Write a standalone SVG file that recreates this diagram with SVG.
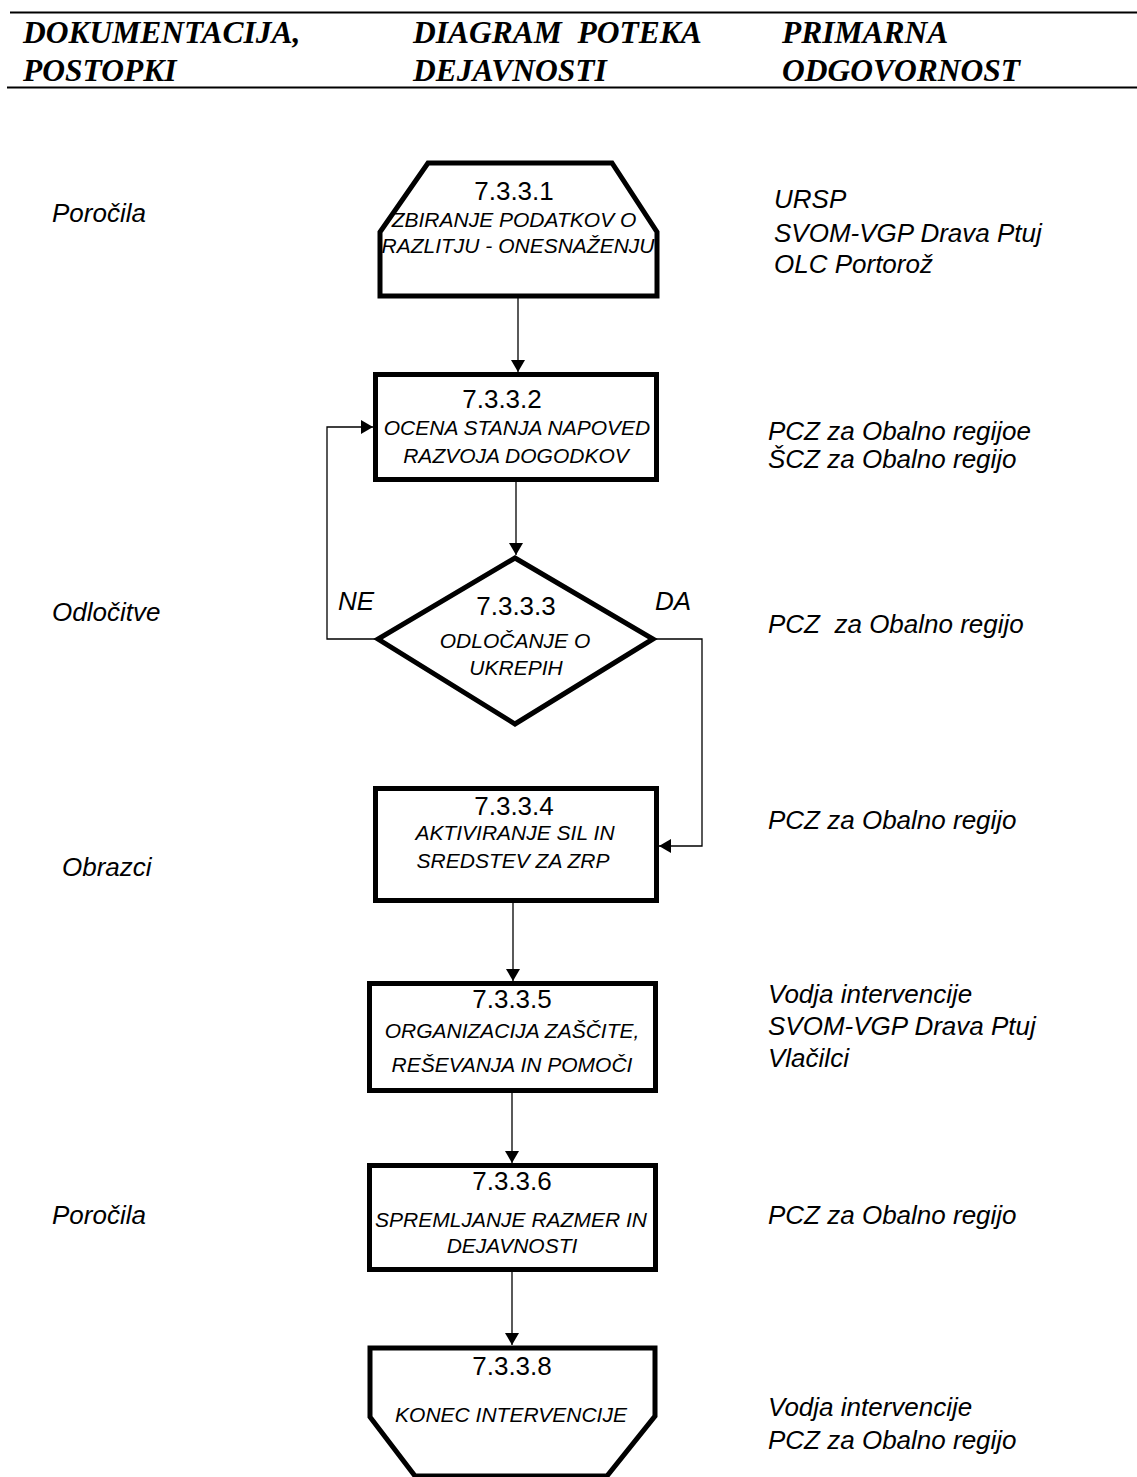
<svg xmlns="http://www.w3.org/2000/svg" width="1137" height="1477" viewBox="0 0 1137 1477">
<defs>
<style>
.hdr{font-family:"Liberation Serif","Times New Roman",serif;font-weight:bold;font-style:italic;font-size:31.5px;fill:#000}
.num{font-family:"Liberation Sans",Arial,sans-serif;font-size:26px;text-anchor:middle;fill:#000}
.lbl{font-family:"Liberation Sans",Arial,sans-serif;font-style:italic;font-size:21px;text-anchor:middle;fill:#000}
.side{font-family:"Liberation Sans",Arial,sans-serif;font-style:italic;font-size:26px;fill:#000;white-space:pre}
.shape{fill:#fff;stroke:#000;stroke-width:5}
.fillonly{fill:#fff;stroke:none}
.strokeonly{fill:none;stroke:#000;stroke-width:5}
.conn{fill:none;stroke:#000;stroke-width:1.3}
.rule{stroke:#000;stroke-width:2.2}
</style>
<marker id="arr" markerUnits="userSpaceOnUse" markerWidth="12" markerHeight="14" refX="12" refY="7" orient="auto">
<path d="M0,0 L12,7 L0,14 z" fill="#000"/>
</marker>
</defs>
<rect width="1137" height="1477" fill="#fff"/>

<g id="header">
<line class="rule" x1="10" y1="12.5" x2="1137" y2="12.5"/>
<line class="rule" x1="7" y1="87.5" x2="1137" y2="87.5"/>
<text class="hdr" x="23" y="43">DOKUMENTACIJA,</text>
<text class="hdr" x="23" y="81">POSTOPKI</text>
<text class="hdr" x="413" y="43" xml:space="preserve">DIAGRAM  POTEKA</text>
<text class="hdr" x="413" y="81">DEJAVNOSTI</text>
<text class="hdr" x="782" y="43">PRIMARNA</text>
<text class="hdr" x="782" y="81">ODGOVORNOST</text>
</g>

<g id="left-labels">
<text class="side" x="52" y="222">Poročila</text>
<text class="side" x="52" y="621">Odločitve</text>
<text class="side" x="62" y="876">Obrazci</text>
<text class="side" x="52" y="1224">Poročila</text>
</g>

<g id="right-labels">
<text class="side" x="774" y="208">URSP</text>
<text class="side" x="774" y="242">SVOM-VGP Drava Ptuj</text>
<text class="side" x="774" y="273">OLC Portorož</text>
<text class="side" x="768" y="440">PCZ za Obalno regijoe</text>
<text class="side" x="768" y="468">ŠCZ za Obalno regijo</text>
<text class="side" x="768" y="633" xml:space="preserve">PCZ  za Obalno regijo</text>
<text class="side" x="768" y="829">PCZ za Obalno regijo</text>
<text class="side" x="768" y="1003">Vodja intervencije</text>
<text class="side" x="768" y="1035">SVOM-VGP Drava Ptuj</text>
<text class="side" x="768" y="1067">Vlačilci</text>
<text class="side" x="768" y="1224">PCZ za Obalno regijo</text>
<text class="side" x="768" y="1416">Vodja intervencije</text>
<text class="side" x="768" y="1449">PCZ za Obalno regijo</text>
</g>

<g id="connectors">
<path class="conn" d="M518,298 V372" marker-end="url(#arr)"/>
<path class="conn" d="M516,482 V555" marker-end="url(#arr)"/>
<path class="conn" d="M378,639 H327 V427 H373" marker-end="url(#arr)"/>
<path class="conn" d="M653,639 H702 V846 H659" marker-end="url(#arr)"/>
<path class="conn" d="M513,903 V981" marker-end="url(#arr)"/>
<path class="conn" d="M512,1093 V1163" marker-end="url(#arr)"/>
<path class="conn" d="M512,1272 V1345" marker-end="url(#arr)"/>
<text class="side" x="338" y="610">NE</text>
<text class="side" x="655" y="610">DA</text>
</g>

<g id="n7331">
<polygon class="fillonly" points="428,163 612,163 657,232 657,296 380,296 380,232"/>
<text class="num" x="514" y="200">7.3.3.1</text>
<text class="lbl" x="514" y="227">ZBIRANJE PODATKOV O</text>
<text class="lbl" x="518" y="253">RAZLITJU - ONESNAŽENJU</text>
<polygon class="strokeonly" points="428,163 612,163 657,232 657,296 380,296 380,232"/>
</g>

<g id="n7332">
<rect class="shape" x="375.5" y="374.5" width="281" height="105"/>
<text class="num" x="502" y="408">7.3.3.2</text>
<text class="lbl" x="517" y="435">OCENA STANJA NAPOVED</text>
<text class="lbl" x="516" y="463">RAZVOJA DOGODKOV</text>
</g>

<g id="n7333">
<polygon class="shape" points="515,558 653,639 515,724 378,639"/>
<text class="num" x="516" y="615">7.3.3.3</text>
<text class="lbl" x="515" y="648">ODLOČANJE O</text>
<text class="lbl" x="516" y="675">UKREPIH</text>
</g>

<g id="n7334">
<rect class="shape" x="375.5" y="788.5" width="281" height="112"/>
<text class="num" x="514" y="815">7.3.3.4</text>
<text class="lbl" x="515" y="840">AKTIVIRANJE SIL IN</text>
<text class="lbl" x="513" y="868">SREDSTEV ZA ZRP</text>
</g>

<g id="n7335">
<rect class="shape" x="369.5" y="983.5" width="286" height="107"/>
<text class="num" x="512" y="1008">7.3.3.5</text>
<text class="lbl" x="512" y="1038">ORGANIZACIJA ZAŠČITE,</text>
<text class="lbl" x="512" y="1072">REŠEVANJA IN POMOČI</text>
</g>

<g id="n7336">
<rect class="shape" x="369.5" y="1165.5" width="286" height="104"/>
<text class="num" x="512" y="1190">7.3.3.6</text>
<text class="lbl" x="511" y="1227">SPREMLJANJE RAZMER IN</text>
<text class="lbl" x="512" y="1253">DEJAVNOSTI</text>
</g>

<g id="n7338">
<polygon class="shape" points="370,1348 655,1348 655,1416 607,1476 415,1476 370,1417"/>
<text class="num" x="512" y="1375">7.3.3.8</text>
<text class="lbl" x="511" y="1422">KONEC INTERVENCIJE</text>
</g>
</svg>
